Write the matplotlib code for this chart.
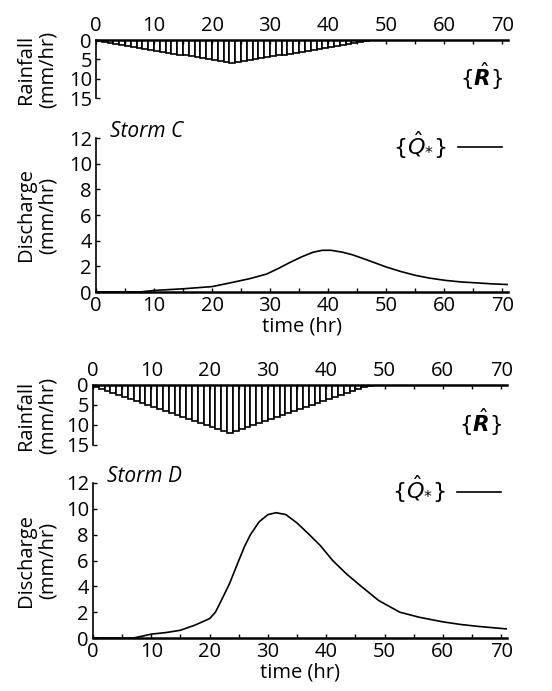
import matplotlib
matplotlib.use("Agg")
import matplotlib.pyplot as plt
from matplotlib.ticker import MultipleLocator

plt.rcParams['font.family'] = ['Open Sans', 'DejaVu Sans']
plt.rcParams['mathtext.fontset'] = 'dejavusans'

# hourly rainfall (mm/hr), bars start at hour 0..47
rain_hours = list(range(48))
rain_c = [0.25, 0.5, 0.75, 1.0, 1.25, 1.5, 1.75, 2.0, 2.25, 2.5, 2.75, 3.0,
          3.25, 3.5, 3.75, 4.0, 4.25, 4.5, 4.75, 5.0, 5.25, 5.5, 5.75, 6.0,
          5.75, 5.5, 5.25, 5.0, 4.75, 4.5, 4.25, 4.0, 3.75, 3.5, 3.25, 3.0,
          2.75, 2.5, 2.25, 2.0, 1.75, 1.5, 1.25, 1.0, 0.75, 0.5, 0.25, 0.1]
rain_d = [0.5, 1.0, 1.5, 2.0, 2.5, 3.0, 3.5, 4.0, 4.5, 5.0, 5.5, 6.0,
          6.5, 7.0, 7.5, 8.0, 8.5, 9.0, 9.5, 10.0, 10.5, 11.0, 11.5, 12.0,
          11.5, 11.0, 10.5, 10.0, 9.5, 9.0, 8.5, 8.0, 7.5, 7.0, 6.5, 6.0,
          5.5, 5.0, 4.5, 4.0, 3.5, 3.0, 2.5, 2.0, 1.5, 1.0, 0.5, 0.2]

# discharge hydrographs (mm/hr)
t_c = [0, 7.5, 10, 15, 20, 23, 26.5, 29.4, 31.5, 33.4, 35.5, 37.4, 39, 40.5, 42.5,
       44.2, 47, 50, 52.5, 55, 57.5, 60.3, 63, 66, 68, 71]
q_c = [0, 0, 0.12, 0.25, 0.42, 0.7, 1.04, 1.4, 1.85, 2.3, 2.75, 3.1, 3.25, 3.25, 3.1,
       2.9, 2.45, 1.95, 1.6, 1.3, 1.08, 0.9, 0.78, 0.7, 0.64, 0.58]
t_d = [0, 6.9, 8.5, 10, 12.5, 15, 17.5, 20, 21, 22, 23.4, 25, 26, 27, 28.5, 30, 31.4,
       33.1, 35, 37.1, 39, 41.1, 43.5, 46, 49, 52.6, 56, 60, 63, 66, 71]
q_d = [0, 0, 0.15, 0.3, 0.42, 0.6, 1.0, 1.5, 2.0, 2.9, 4.2, 6.0, 7.1, 8.0, 9.0, 9.55,
       9.7, 9.55, 8.9, 8.0, 7.15, 6.0, 4.95, 4.0, 2.9, 2.0, 1.6, 1.25, 1.05, 0.9, 0.7]

storms = ['Storm C', 'Storm D']
fs = 14.5


def style_axis(ax):
    ax.set_xlim(0, 71)
    ax.xaxis.set_major_locator(MultipleLocator(10))
    ax.xaxis.set_minor_locator(MultipleLocator(5))
    ax.tick_params(axis='both', which='both', direction='in', labelsize=fs, length=3, width=1)
    ax.tick_params(axis='x', pad=3)
    ax.tick_params(axis='y', pad=3)


def rain_panel(fig, rect, hours, vals, lab_x):
    ax = fig.add_axes(rect)
    ax.bar(hours, vals, width=1, align='edge', facecolor='white',
           edgecolor='black', linewidth=1.2)
    style_axis(ax)
    ax.set_ylim(15, 0)
    ax.set_yticks([0, 5, 10, 15])
    ax.xaxis.tick_top()
    for s in ['right', 'bottom']:
        ax.spines[s].set_visible(False)
    ax.spines['top'].set_linewidth(1.8)
    ax.spines['left'].set_linewidth(1.2)
    ax.set_ylabel('Rainfall\n(mm/hr)', fontsize=fs, linespacing=1.15)
    ax.yaxis.set_label_coords(lab_x, 0.5)
    ax.text(0.935, 0.38, r'$\{\hat{\mathbfit{R}}\}$', transform=ax.transAxes,
            fontsize=fs + 1, ha='center', va='center')
    return ax


def flow_panel(fig, rect, t, q, title, lab_x):
    ax = fig.add_axes(rect)
    ln, = ax.plot(t, q, color='black', linewidth=1.2)
    style_axis(ax)
    ax.set_ylim(0, 12)
    ax.set_yticks([0, 2, 4, 6, 8, 10, 12])
    for s in ['right', 'top']:
        ax.spines[s].set_visible(False)
    ax.spines['bottom'].set_linewidth(1.8)
    ax.spines['left'].set_linewidth(1.2)
    ax.set_ylabel('Discharge\n(mm/hr)', fontsize=fs, linespacing=1.15)
    ax.yaxis.set_label_coords(lab_x, 0.5)
    ax.set_xlabel('time (hr)', fontsize=fs, labelpad=0)
    ax.text(0.035, 1.04, title, transform=ax.transAxes, fontsize=fs + 0.5,
            style='italic', ha='left', va='center')
    ax.legend([ln], [r'$\{\hat{Q}_{*}\}$'], loc='upper right', bbox_to_anchor=(1.035, 1.19),
              frameon=False, markerfirst=False, fontsize=fs + 1.5, handlelength=2.0,
              handletextpad=0.5)
    return ax


fig = plt.figure(figsize=(5.52, 6.91), dpi=100)

rain_panel(fig, [96 / 552, 1 - 98 / 691, 412 / 552, 58 / 691], rain_hours, rain_c, -0.092)
flow_panel(fig, [96 / 552, 1 - 292 / 691, 412 / 552, 154 / 691], t_c, q_c, storms[0], -0.092)
rain_panel(fig, [93 / 552, 1 - 445 / 691, 414 / 552, 60 / 691], rain_hours, rain_d, -0.085)
flow_panel(fig, [93 / 552, 1 - 638 / 691, 414 / 552, 155 / 691], t_d, q_d, storms[1], -0.085)

fig.savefig('out.png', dpi=100)
